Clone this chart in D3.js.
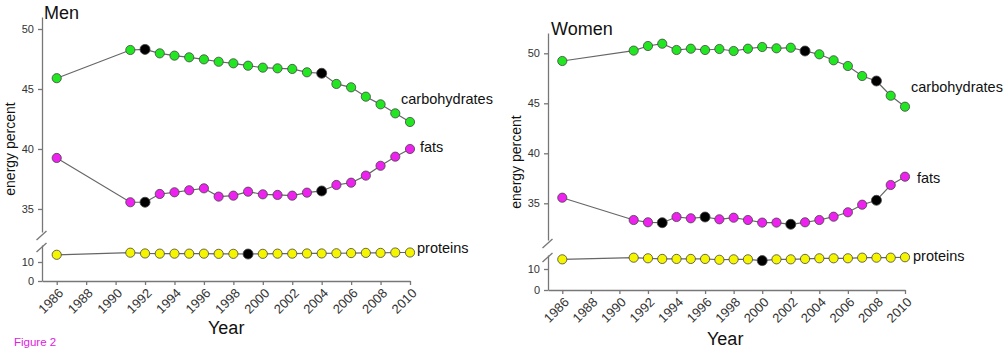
<!DOCTYPE html>
<html>
<head>
<meta charset="UTF-8">
<script src="https://cdn.jsdelivr.net/npm/d3@7"></script>
<style>
  body { margin: 0; background: #fff; }
  text { font-family: "Liberation Sans", Arial, sans-serif; }
</style>
</head>
<body>
<script>
// years measured in both surveys
var years = [1986, 1991, 1992, 1993, 1994, 1995, 1996, 1997, 1998, 1999, 2000,
             2001, 2002, 2003, 2004, 2005, 2006, 2007, 2008, 2009, 2010];
var xTicks = [1986, 1988, 1990, 1992, 1994, 1996, 1998, 2000, 2002, 2004, 2006, 2008, 2010];
var upperTicks = [35, 40, 45, 50];
var lowerTicks = [0, 10];

var menCarbs = [45.9, 48.25, 48.3, 47.97, 47.78, 47.64, 47.47, 47.27, 47.14, 46.94, 46.78,
                46.72, 46.67, 46.39, 46.31, 45.42, 45.14, 44.36, 43.72, 42.97, 42.25];
var menFats = [39.25, 35.56, 35.56, 36.25, 36.39, 36.56, 36.72, 36.03, 36.11, 36.44, 36.22,
               36.17, 36.11, 36.36, 36.5, 37.0, 37.19, 37.78, 38.6, 39.36, 40.0];
var menProteins = [13.8, 14.9, 14.5, 14.4, 14.4, 14.4, 14.4, 14.3, 14.3, 14.2, 14.3,
                   14.4, 14.4, 14.5, 14.5, 14.6, 14.7, 14.8, 14.8, 15.0, 15.0];
var menCarbsBlack = [1992, 2004];
var menFatsBlack = [1992, 2004];
var menProteinsBlack = [1999];

var womenCarbs = [49.23, 50.27, 50.73, 50.96, 50.33, 50.46, 50.33, 50.43, 50.23, 50.46, 50.63,
                  50.5, 50.56, 50.23, 49.9, 49.3, 48.73, 47.73, 47.23, 45.76, 44.66];
var womenFats = [35.56, 33.33, 33.1, 33.06, 33.63, 33.5, 33.63, 33.4, 33.56, 33.33, 33.07,
                 33.07, 32.9, 33.1, 33.33, 33.66, 34.1, 34.86, 35.3, 36.83, 37.66];
var womenProteins = [14.6, 15.4, 15.1, 14.8, 14.8, 14.8, 14.8, 14.4, 14.6, 14.6, 14.0,
                     14.6, 14.6, 14.8, 15.1, 15.1, 15.1, 15.4, 15.4, 15.4, 15.6];
var womenCarbsBlack = [2003, 2008];
var womenFatsBlack = [1993, 1996, 2002, 2008];
var womenProteinsBlack = [2000];

var svg = d3.select("body").append("svg")
  .attr("width", 1003)
  .attr("height", 348);

function drawPanel(p) {
  var g = svg.append("g");
  var x = d3.scaleLinear().domain([1985, 2010]).range([p.x0, p.x1]);
  var yU = d3.scaleLinear().domain(p.upperDomain).range([p.upperBottom, p.upperTop]);
  var yL = d3.scaleLinear().domain(p.lowerDomain).range([p.lowerBottom, p.lowerTop]);

  // axes
  var axY1 = g.append("g").attr("transform", "translate(" + p.x0 + ",0)")
    .call(d3.axisLeft(yU).tickValues(upperTicks).tickSizeInner(4).tickSizeOuter(0).tickPadding(4));
  var axY2 = g.append("g").attr("transform", "translate(" + p.x0 + ",0)")
    .call(d3.axisLeft(yL).tickValues(lowerTicks).tickSizeInner(4).tickSizeOuter(0).tickPadding(4));
  var axX = g.append("g").attr("transform", "translate(0," + p.lowerBottom + ")")
    .call(d3.axisBottom(x).tickValues(xTicks).tickFormat(d3.format("d"))
      .tickSizeInner(4).tickSizeOuter(0).tickPadding(4));

  [axY1, axY2, axX].forEach(function (a) {
    a.selectAll("path, line").attr("stroke", "#777").attr("stroke-width", 1.3);
    a.selectAll("text").attr("fill", "#333").style("font-size", "11px")
      .style("font-family", "'Liberation Sans', Arial, sans-serif");
  });
  axX.selectAll("text")
    .attr("text-anchor", "end")
    .attr("dy", null)
    .attr("y", 0)
    .style("font-size", "13px")
    .attr("transform", "translate(7,13) rotate(-45)");

  // axis break marks
  [p.upperBottom + 3.5, p.lowerTop + 2.5].forEach(function (cy) {
    g.append("line")
      .attr("x1", p.x0 - 5.5).attr("y1", cy + 4.5)
      .attr("x2", p.x0 + 4.5).attr("y2", cy - 4.5)
      .attr("stroke", "#777").attr("stroke-width", 1.3);
  });

  // series
  var series = [
    { vals: p.carbs, black: p.carbsBlack, y: yU, fill: "#22e622" },
    { vals: p.fats, black: p.fatsBlack, y: yU, fill: "#ee22ee" },
    { vals: p.proteins, black: p.proteinsBlack, y: yL, fill: "#f5f500" }
  ];
  series.forEach(function (s) {
    var pts = years.map(function (yr, i) { return { year: yr, v: s.vals[i] }; });
    g.append("path")
      .datum(pts)
      .attr("fill", "none")
      .attr("stroke", "#666")
      .attr("stroke-width", 1.2)
      .attr("d", d3.line().x(function (d) { return x(d.year); }).y(function (d) { return s.y(d.v); }));
    g.selectAll(null)
      .data(pts)
      .enter()
      .append("circle")
      .attr("cx", function (d) { return x(d.year); })
      .attr("cy", function (d) { return s.y(d.v); })
      .attr("r", function (d) { return s.black.indexOf(d.year) >= 0 ? 5 : 4.6; })
      .attr("fill", function (d) { return s.black.indexOf(d.year) >= 0 ? "#000" : s.fill; })
      .attr("stroke", "#444")
      .attr("stroke-width", 0.8);
  });

  // titles and labels
  g.append("text").attr("x", p.titleX).attr("y", p.titleY)
    .style("font-size", "18px").attr("fill", "#111").text(p.title);
  g.append("text")
    .attr("transform", "translate(" + p.ylabX + "," + p.ylabY + ") rotate(-90)")
    .attr("text-anchor", "middle")
    .style("font-size", "14px").attr("fill", "#111").text("energy percent");
  g.append("text").attr("x", p.yearX).attr("y", p.yearY)
    .style("font-size", "18px").attr("fill", "#111").text("Year");

  p.labels.forEach(function (l) {
    g.append("text").attr("x", l[1]).attr("y", l[2])
      .style("font-size", "14.5px").attr("fill", "#111").text(l[0]);
  });
}

drawPanel({
  x0: 42, x1: 410,
  upperDomain: [33.08, 51], upperBottom: 232, upperTop: 17,
  lowerDomain: [0, 18.95], lowerBottom: 281, lowerTop: 245,
  carbs: menCarbs, fats: menFats, proteins: menProteins,
  carbsBlack: menCarbsBlack, fatsBlack: menFatsBlack, proteinsBlack: menProteinsBlack,
  title: "Men", titleX: 44, titleY: 19,
  ylabX: 15, ylabY: 149,
  yearX: 208, yearY: 334,
  labels: [["carbohydrates", 401, 104], ["fats", 420, 152], ["proteins", 417, 253]]
});

drawPanel({
  x0: 548, x1: 905,
  upperDomain: [31.33, 52.03], upperBottom: 240, upperTop: 33,
  lowerDomain: [0, 16.67], lowerBottom: 290, lowerTop: 255,
  carbs: womenCarbs, fats: womenFats, proteins: womenProteins,
  carbsBlack: womenCarbsBlack, fatsBlack: womenFatsBlack, proteinsBlack: womenProteinsBlack,
  title: "Women", titleX: 551, titleY: 35,
  ylabX: 521, ylabY: 162,
  yearX: 707, yearY: 345,
  labels: [["carbohydrates", 911, 92], ["fats", 917, 183], ["proteins", 913, 261]]
});

svg.append("text").attr("x", 14).attr("y", 346)
  .style("font-size", "11.5px").attr("fill", "#e020e0").text("Figure 2");
</script>
</body>
</html>
